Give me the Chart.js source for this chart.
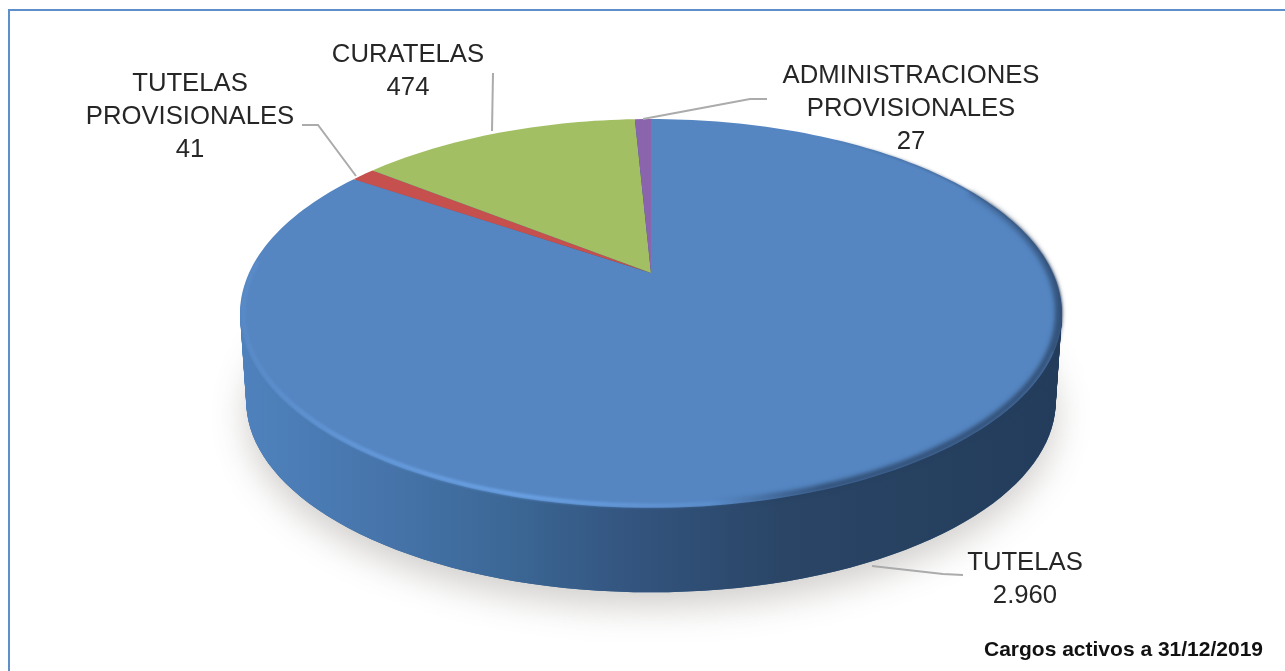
<!DOCTYPE html>
<html>
<head>
<meta charset="utf-8">
<title>Cargos activos</title>
<script src="https://cdn.jsdelivr.net/npm/chart.js@4"></script>
<style>
  html,body{margin:0;padding:0;background:#fff;}
  canvas{display:block;}
</style>
</head>
<body>
<canvas id="pieChart" width="1285" height="671"></canvas>
<script>
// data
const categories = ['TUTELAS', 'TUTELAS PROVISIONALES', 'CURATELAS', 'ADMINISTRACIONES PROVISIONALES'];
const values = [2960, 41, 474, 27];
const sliceColors = ['#5586c2', '#c6504e', '#a2bf63', '#8a65ad'];
const footnote = 'Cargos activos a 31/12/2019';

// perspective of the disc: unit circle -> screen
const CX = 651, CY = 273, RX = 402, RY = 186, PERSP = 0.208;
function project(angle, k){
  const u = Math.cos(angle) * (k ?? 1), v = Math.sin(angle) * (k ?? 1);
  const w = 1 - PERSP * v;
  return [CX + RX * u / w, CY + RY * v / w];
}
// bottom disc of the cylinder
function lower(p, t){
  return [CX + (p[0] - CX) * (1 - 0.015 * t), CY + (p[1] - CY) * (1 - 0.015 * t) + 88 * t];
}
function discPath(ctx, t){
  ctx.beginPath();
  for(let i = 0; i <= 180; i++){
    const p = lower(project(i / 180 * Math.PI * 2), t);
    if(i === 0) ctx.moveTo(p[0], p[1]); else ctx.lineTo(p[0], p[1]);
  }
  ctx.closePath();
}
function rimStroke(ctx, from, to, k){
  ctx.beginPath();
  for(let i = 0; i <= 120; i++){
    const p = project(from + (to - from) * i / 120, k);
    if(i === 0) ctx.moveTo(p[0], p[1]); else ctx.lineTo(p[0], p[1]);
  }
  ctx.stroke();
}

const labelBoxes = [
  {x:1025, y:563, line:[[872,566],[943,574],[963,575]]},
  {x:190, y:84, line:[[302,125],[318,125],[356,176]]},
  {x:408, y:55, line:[[493,73],[492,131]]},
  {x:911, y:76, line:[[643,119],[750,99],[767,99]]}
];

const pie3d = {
  id:'pie3d',
  beforeDatasetDraw(chart){
    const ctx = chart.ctx;
    const arcs = chart.getDatasetMeta(0).data;

    // panel border, only top and left are in the crop
    ctx.save();
    ctx.strokeStyle = '#5f8fca';
    ctx.lineWidth = 2;
    ctx.beginPath();
    ctx.moveTo(9, 671);
    ctx.lineTo(9, 10);
    ctx.lineTo(1285, 10);
    ctx.stroke();
    ctx.restore();

    // soft shadow under the disc
    ctx.save();
    ctx.shadowColor = 'rgba(90,80,70,0.27)';
    ctx.shadowBlur = 34;
    ctx.shadowOffsetY = 15;
    ctx.fillStyle = '#3a6590';
    discPath(ctx, 1);
    ctx.fill();
    ctx.restore();

    // side wall
    const side = ctx.createLinearGradient(240, 0, 1063, 0);
    side.addColorStop(0, '#4f82bd');
    side.addColorStop(0.18, '#4674aa');
    side.addColorStop(0.32, '#3c6897');
    side.addColorStop(0.48, '#33547e');
    side.addColorStop(0.66, '#2a4566');
    side.addColorStop(1, '#233c5b');
    ctx.fillStyle = side;
    for(let t = 1; t >= 0; t -= 0.02){
      discPath(ctx, t);
      ctx.fill();
    }

    // top face, one path per arc element
    arcs.forEach((arc) => {
      ctx.beginPath();
      ctx.moveTo(CX, CY);
      const steps = Math.max(2, Math.ceil((arc.endAngle - arc.startAngle) * 40));
      for(let s = 0; s <= steps; s++){
        const p = project(arc.startAngle + (arc.endAngle - arc.startAngle) * s / steps);
        ctx.lineTo(p[0], p[1]);
      }
      ctx.closePath();
      ctx.fillStyle = arc.options.backgroundColor;
      ctx.fill();
    });

    // bevel: light on the left, dark on the right
    ctx.save();
    ctx.filter = 'blur(1.5px)';
    const light = ctx.createLinearGradient(240, 0, 800, 0);
    light.addColorStop(0, 'rgba(112,168,236,0.15)');
    light.addColorStop(0.2, 'rgba(112,168,236,0.6)');
    light.addColorStop(0.5, 'rgba(112,168,236,0.95)');
    light.addColorStop(0.75, 'rgba(112,168,236,0.45)');
    light.addColorStop(1, 'rgba(112,168,236,0)');
    ctx.strokeStyle = light;
    ctx.lineWidth = 3.5;
    rimStroke(ctx, Math.PI * 1.02, Math.PI * 0.3, 0.992);

    // wide soft dark band on the front right, starts at 0 rad (pointing right)
    ctx.filter = 'blur(2.5px)';
    const deg = a => a / 360;
    const darkWide = ctx.createConicGradient(0, CX, CY + 40);
    darkWide.addColorStop(0, 'rgba(38,62,94,0.85)');
    darkWide.addColorStop(deg(45), 'rgba(38,62,94,0.85)');
    darkWide.addColorStop(deg(72), 'rgba(38,62,94,0)');
    darkWide.addColorStop(deg(330), 'rgba(38,62,94,0)');
    darkWide.addColorStop(1, 'rgba(38,62,94,0.85)');
    ctx.strokeStyle = darkWide;
    ctx.lineWidth = 6;
    rimStroke(ctx, Math.PI * 0.5, -0.5, 0.992);

    // thin dark edge going on to the back right
    ctx.filter = 'blur(0.8px)';
    const darkThin = ctx.createConicGradient(0, CX, CY + 40);
    darkThin.addColorStop(0, 'rgba(38,62,94,0.8)');
    darkThin.addColorStop(deg(20), 'rgba(38,62,94,0)');
    darkThin.addColorStop(deg(310), 'rgba(38,62,94,0)');
    darkThin.addColorStop(1, 'rgba(38,62,94,0.8)');
    ctx.strokeStyle = darkThin;
    ctx.lineWidth = 2;
    rimStroke(ctx, 0.4, -1, 0.998);
    ctx.restore();

    // leader lines and labels
    ctx.save();
    ctx.strokeStyle = '#ababab';
    ctx.lineWidth = 2;
    labelBoxes.forEach(b => {
      ctx.beginPath();
      b.line.forEach((p, i) => i ? ctx.lineTo(p[0], p[1]) : ctx.moveTo(p[0], p[1]));
      ctx.stroke();
    });
    ctx.fillStyle = '#262626';
    ctx.font = '25.7px "Liberation Sans"';
    ctx.textAlign = 'center';
    ctx.textBaseline = 'middle';
    categories.forEach((c, i) => {
      const lines = c.split(' ').concat(values[i].toLocaleString('de-DE'));
      lines.forEach((l, j) => ctx.fillText(l, labelBoxes[i].x, labelBoxes[i].y + j * 33));
    });
    ctx.fillStyle = '#111';
    ctx.font = 'bold 21px "Liberation Sans"';
    ctx.textAlign = 'left';
    ctx.textBaseline = 'alphabetic';
    ctx.fillText(footnote, 984, 656, 281);
    ctx.restore();

    return false; // arcs were already drawn in perspective
  }
};

new Chart(document.getElementById('pieChart'), {
  type:'pie',
  data:{
    labels:categories,
    datasets:[{data:values, backgroundColor:sliceColors, borderWidth:0}]
  },
  options:{
    responsive:false,
    animation:false,
    events:[],
    plugins:{legend:{display:false}, tooltip:{enabled:false}}
  },
  plugins:[pie3d]
});
</script>
</body>
</html>
